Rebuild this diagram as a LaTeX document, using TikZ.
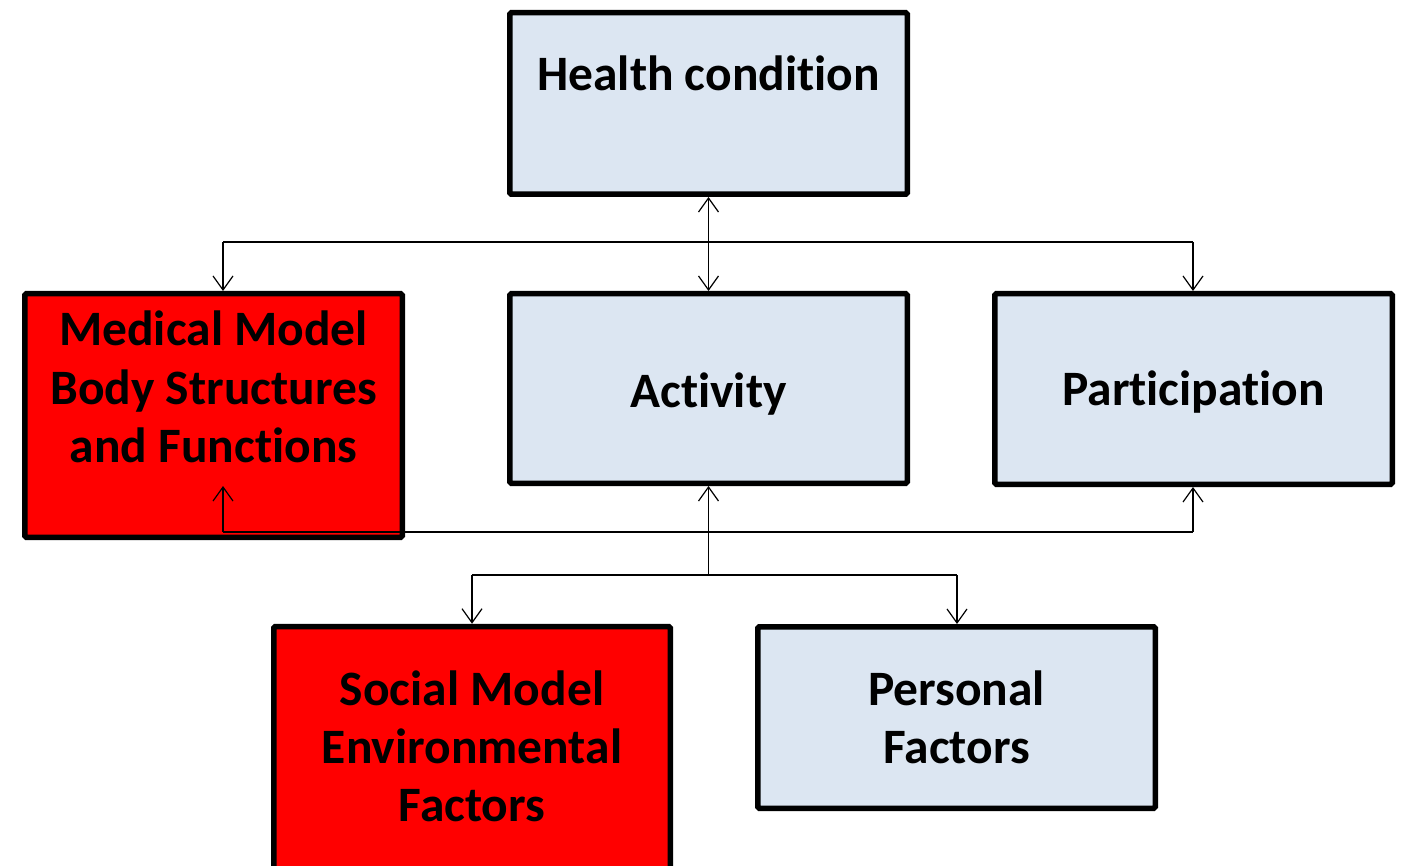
\documentclass[tikz,border=0pt]{standalone}
\usepackage{fontspec}
\setmainfont{Carlito}[Ligatures={NoCommon}]
\usetikzlibrary{arrows.meta}
\definecolor{lblue}{HTML}{DCE6F2}
\definecolor{bred}{HTML}{FF0000}
\begin{document}
\begin{tikzpicture}[x=1pt,y=-1pt,
  box/.style={draw=black,line width=5.5pt,rounded corners=1.5pt,inner sep=0pt,outer sep=2.75pt},
  bluebox/.style={box,fill=lblue},
  redbox/.style={box,fill=bred},
  lbl/.style={font=\fontsize{49.5}{58}\selectfont\bfseries,align=center,anchor=base,inner sep=0pt},
  conn/.style={line width=1.2pt},
  arr/.style={conn,-{Straight Barb[length=14pt,width=20pt,line width=1.2pt]}},
  darr/.style={conn,{Straight Barb[length=14pt,width=20pt,line width=1.2pt]}-{Straight Barb[length=14pt,width=20pt,line width=1.2pt]}}]
\useasboundingbox (0,0) rectangle (1406,866);
\clip (0,0) rectangle (1406,866);
% boxes
\node[bluebox,minimum width=397.5pt,minimum height=181.5pt] (hc) at (708.5,103.5) {};
\node[redbox,minimum width=377.5pt,minimum height=243.5pt] (mm) at (213.5,415.5) {};
\node[bluebox,minimum width=397.5pt,minimum height=189.5pt] (act) at (708.5,388.5) {};
\node[bluebox,minimum width=397.5pt,minimum height=190.5pt] (par) at (1193.5,389) {};
\node[redbox,minimum width=396.5pt,minimum height=300pt] (soc) at (472,776.5) {};
\node[bluebox,minimum width=397.5pt,minimum height=181.5pt] (per) at (956.5,717.5) {};
% labels
\node[lbl] (hct) at (708.5,91) {Health condition};
\node[lbl] (mmt) at (213.5,462) {Medical Model\\Body Structures\\and Functions};
\node[lbl] (actt) at (708.5,408) {Activity};
\node[lbl] (part) at (1193.5,406) {Participation};
\node[lbl] (soct) at (472,821) {Social Model\\Environmental\\Factors};
\node[lbl] (pert) at (956.5,763) {Personal\\Factors};
% junction coordinates
\coordinate (tl) at (223,242);
\coordinate (tr) at (1193,242);
\coordinate (bl) at (223,532);
\coordinate (br) at (1193,532);
\coordinate (lm) at (708.5,575);
\coordinate (ll) at (472,575);
\coordinate (lr) at (957,575);
\coordinate (mmin) at (223,486);
% connectors
\draw[darr] (hc.south) -- (act.north);
\draw[conn] (tl) -- (tr);
\draw[arr] (tl) -- (tl |- mm.north);
\draw[arr] (tr) -- (tr |- par.north);
\draw[conn] (bl) -- (br);
\draw[arr] (bl) -- (mmin);
\draw[arr] (br) -- (br |- par.south);
\draw[arr] (lm) -- (act.south);
\draw[conn] (ll) -- (lr);
\draw[arr] (ll) -- (ll |- soc.north);
\draw[arr] (lr) -- (lr |- per.north);
\end{tikzpicture}
\end{document}
